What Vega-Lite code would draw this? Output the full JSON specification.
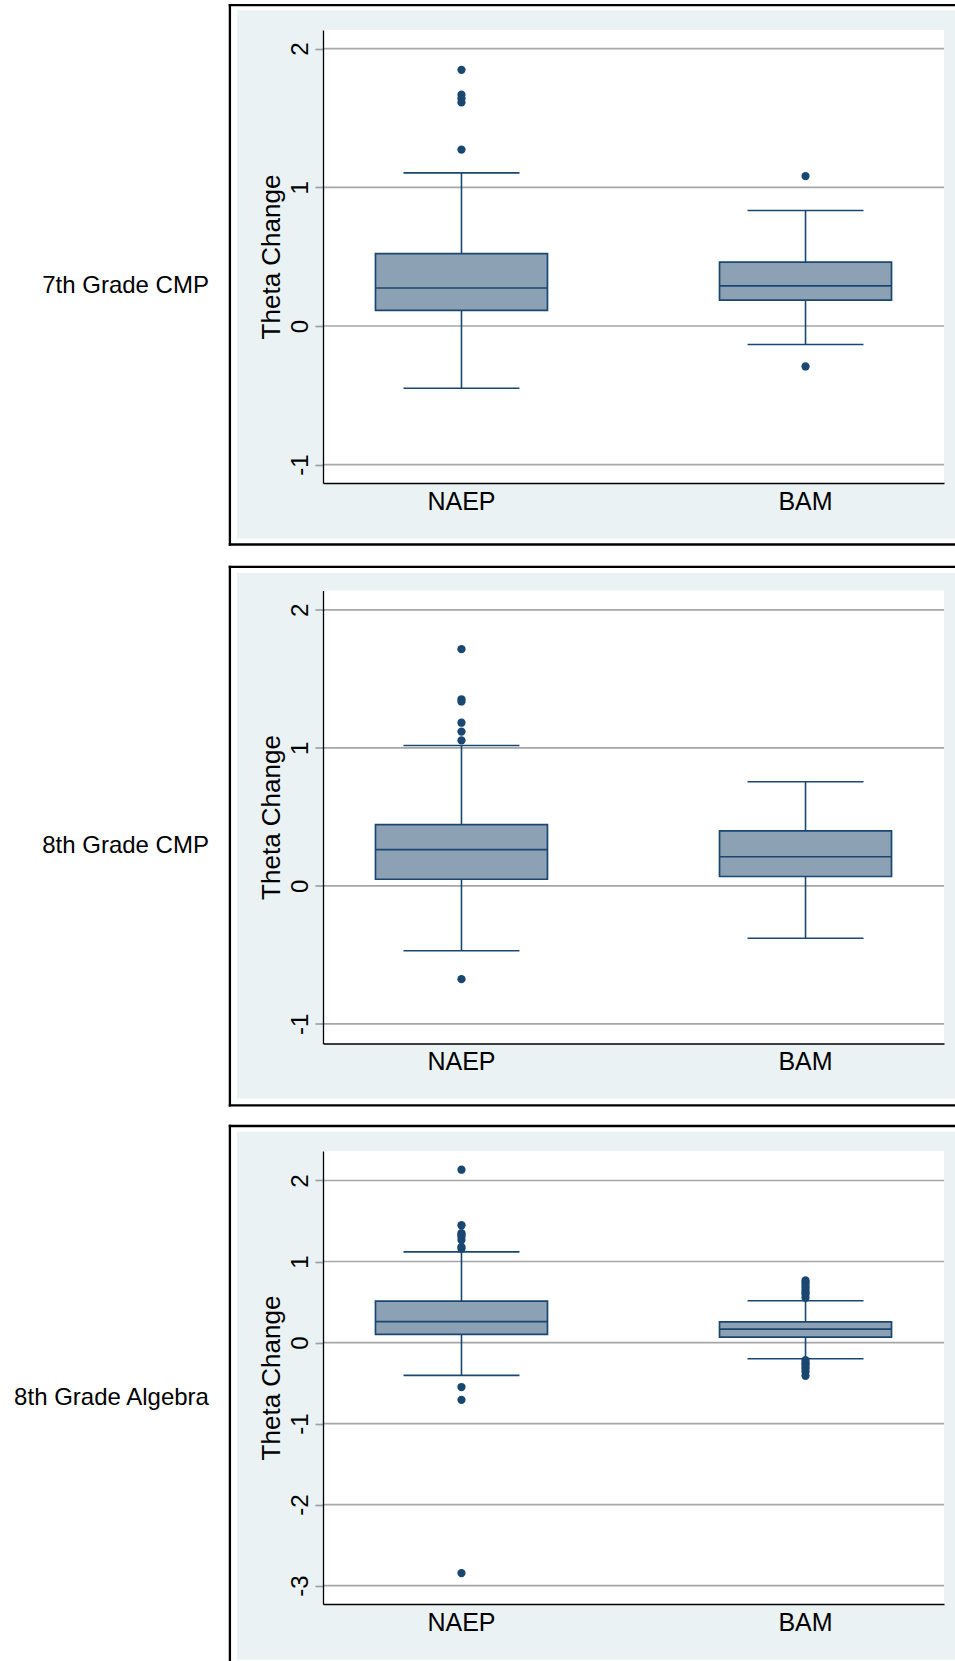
{
  "$schema": "https://vega.github.io/schema/vega-lite/v6.json",
  "background": "white",
  "padding": {"left": 0, "top": 0, "right": 0, "bottom": 0},
  "autosize": {"type": "pad"},
  "bounds": "flush",
  "spacing": 107.5,
  "config": {
    "font": "Liberation Sans",
    "view": {"fill": "white", "stroke": null},
    "axisY": {
      "grid": false, "domainColor": "black", "domainWidth": 1.3,
      "tickColor": "#A0A0A0", "tickSize": 8, "tickWidth": 1.7,
      "labelAngle": -90, "labelAlign": "center", "labelBaseline": "alphabetic",
      "labelPadding": 8, "labelFontSize": 24, "labelColor": "black",
      "labelFlush": false, "labelOverlap": false,
      "labelExpr": "(datum.value < 0 ? '-' : '') + abs(datum.value)",
      "titleFontSize": 26, "titleFontWeight": "normal", "titleColor": "black",
      "titlePadding": 9, "titleBaseline": "alphabetic"
    },
    "axisX": {
      "grid": false, "ticks": false, "domainColor": "black", "domainWidth": 1.3,
      "labelAngle": 0, "labelFontSize": 25, "labelColor": "black",
      "labelBaseline": "alphabetic", "labelPadding": 26
    }
  },
  "datasets": {
    "boxes": [
      {"panel": "7th Grade CMP", "group": "NAEP", "lower": -0.449, "q1": 0.112, "median": 0.274, "q3": 0.522, "upper": 1.104},
      {"panel": "7th Grade CMP", "group": "BAM", "lower": -0.133, "q1": 0.186, "median": 0.289, "q3": 0.461, "upper": 0.833},
      {"panel": "8th Grade CMP", "group": "NAEP", "lower": -0.470, "q1": 0.048, "median": 0.262, "q3": 0.444, "upper": 1.017},
      {"panel": "8th Grade CMP", "group": "BAM", "lower": -0.379, "q1": 0.068, "median": 0.211, "q3": 0.398, "upper": 0.754},
      {"panel": "8th Grade Algebra", "group": "NAEP", "lower": -0.405, "q1": 0.101, "median": 0.259, "q3": 0.511, "upper": 1.119},
      {"panel": "8th Grade Algebra", "group": "BAM", "lower": -0.200, "q1": 0.068, "median": 0.165, "q3": 0.255, "upper": 0.515}
    ],
    "outliers": [
      {"panel": "7th Grade CMP", "group": "NAEP", "value": 1.847},
      {"panel": "7th Grade CMP", "group": "NAEP", "value": 1.668},
      {"panel": "7th Grade CMP", "group": "NAEP", "value": 1.640},
      {"panel": "7th Grade CMP", "group": "NAEP", "value": 1.612},
      {"panel": "7th Grade CMP", "group": "NAEP", "value": 1.272},
      {"panel": "7th Grade CMP", "group": "BAM", "value": 1.081},
      {"panel": "7th Grade CMP", "group": "BAM", "value": -0.292},
      {"panel": "8th Grade CMP", "group": "NAEP", "value": 1.715},
      {"panel": "8th Grade CMP", "group": "NAEP", "value": 1.352},
      {"panel": "8th Grade CMP", "group": "NAEP", "value": 1.336},
      {"panel": "8th Grade CMP", "group": "NAEP", "value": 1.182},
      {"panel": "8th Grade CMP", "group": "NAEP", "value": 1.118},
      {"panel": "8th Grade CMP", "group": "NAEP", "value": 1.054},
      {"panel": "8th Grade CMP", "group": "NAEP", "value": -0.676},
      {"panel": "8th Grade Algebra", "group": "NAEP", "value": 2.133},
      {"panel": "8th Grade Algebra", "group": "NAEP", "value": 1.448},
      {"panel": "8th Grade Algebra", "group": "NAEP", "value": 1.350},
      {"panel": "8th Grade Algebra", "group": "NAEP", "value": 1.330},
      {"panel": "8th Grade Algebra", "group": "NAEP", "value": 1.307},
      {"panel": "8th Grade Algebra", "group": "NAEP", "value": 1.265},
      {"panel": "8th Grade Algebra", "group": "NAEP", "value": 1.180},
      {"panel": "8th Grade Algebra", "group": "NAEP", "value": 1.158},
      {"panel": "8th Grade Algebra", "group": "NAEP", "value": -0.549},
      {"panel": "8th Grade Algebra", "group": "NAEP", "value": -0.707},
      {"panel": "8th Grade Algebra", "group": "NAEP", "value": -2.845},
      {"panel": "8th Grade Algebra", "group": "BAM", "value": 0.767},
      {"panel": "8th Grade Algebra", "group": "BAM", "value": 0.740},
      {"panel": "8th Grade Algebra", "group": "BAM", "value": 0.711},
      {"panel": "8th Grade Algebra", "group": "BAM", "value": 0.680},
      {"panel": "8th Grade Algebra", "group": "BAM", "value": 0.647},
      {"panel": "8th Grade Algebra", "group": "BAM", "value": 0.620},
      {"panel": "8th Grade Algebra", "group": "BAM", "value": 0.596},
      {"panel": "8th Grade Algebra", "group": "BAM", "value": 0.553},
      {"panel": "8th Grade Algebra", "group": "BAM", "value": -0.217},
      {"panel": "8th Grade Algebra", "group": "BAM", "value": -0.245},
      {"panel": "8th Grade Algebra", "group": "BAM", "value": -0.269},
      {"panel": "8th Grade Algebra", "group": "BAM", "value": -0.300},
      {"panel": "8th Grade Algebra", "group": "BAM", "value": -0.325},
      {"panel": "8th Grade Algebra", "group": "BAM", "value": -0.360},
      {"panel": "8th Grade Algebra", "group": "BAM", "value": -0.410}
    ],
    "ticks": [
      {"panel": "7th Grade CMP", "tick": -1}, {"panel": "7th Grade CMP", "tick": 0}, {"panel": "7th Grade CMP", "tick": 1}, {"panel": "7th Grade CMP", "tick": 2},
      {"panel": "8th Grade CMP", "tick": -1}, {"panel": "8th Grade CMP", "tick": 0}, {"panel": "8th Grade CMP", "tick": 1}, {"panel": "8th Grade CMP", "tick": 2},
      {"panel": "8th Grade Algebra", "tick": -3}, {"panel": "8th Grade Algebra", "tick": -2}, {"panel": "8th Grade Algebra", "tick": -1}, {"panel": "8th Grade Algebra", "tick": 0}, {"panel": "8th Grade Algebra", "tick": 1}, {"panel": "8th Grade Algebra", "tick": 2}
    ]
  },
  "vconcat": [
    {
      "width": 621, "height": 453,
      "resolve": {"scale": {"x": "independent"}},
      "layer": [
        {"data": {"values": [{}]}, "mark": {"type": "rect", "fill": "white"},
         "encoding": {"x": {"datum": -0.519, "type": "quantitative", "scale": {"domain": [0, 1], "nice": false, "zero": false}, "axis": null}, "x2": {"datum": -0.516},
                      "y": {"datum": 2.3445, "type": "quantitative", "scale": {"domain": [-1.132, 2.134], "nice": false, "zero": false}}, "y2": {"datum": 2.34}}},
        {"data": {"values": [{}]}, "mark": {"type": "rect", "fill": "#EAF2F3"},
         "encoding": {"x": {"datum": -0.13865, "type": "quantitative", "scale": {"domain": [0, 1], "nice": false, "zero": false}, "axis": null}, "x2": {"datum": 1.01884},
                      "y": {"datum": 2.276, "type": "quantitative", "scale": {"domain": [-1.132, 2.134], "nice": false, "zero": false}}, "y2": {"datum": -1.5322}}},
        {"data": {"values": [{}]}, "mark": {"type": "rect", "fill": "white"},
         "encoding": {"x": {"datum": 0, "type": "quantitative", "scale": {"domain": [0, 1], "nice": false, "zero": false}, "axis": null}, "x2": {"datum": 1},
                      "y": {"datum": 2.134, "type": "quantitative", "scale": {"domain": [-1.132, 2.134], "nice": false, "zero": false}}, "y2": {"datum": -1.132}}},
        {"data": {"values": [{}]}, "mark": {"type": "rule", "color": "black", "strokeWidth": 2.3},
         "encoding": {"x": {"datum": -0.15177, "type": "quantitative", "scale": {"domain": [0, 1], "nice": false, "zero": false}, "axis": null}, "x2": {"datum": 1.01884},
                      "y": {"datum": 2.3135, "type": "quantitative", "scale": {"domain": [-1.132, 2.134], "nice": false, "zero": false}}}},
        {"data": {"values": [{}]}, "mark": {"type": "rule", "color": "black", "strokeWidth": 2.3},
         "encoding": {"x": {"datum": -0.15177, "type": "quantitative", "scale": {"domain": [0, 1], "nice": false, "zero": false}, "axis": null}, "x2": {"datum": 1.01884},
                      "y": {"datum": -1.5754, "type": "quantitative", "scale": {"domain": [-1.132, 2.134], "nice": false, "zero": false}}}},
        {"data": {"values": [{}]}, "mark": {"type": "rule", "color": "black", "strokeWidth": 2.3, "strokeCap": "square"},
         "encoding": {"x": {"datum": -0.14992, "type": "quantitative", "scale": {"domain": [0, 1], "nice": false, "zero": false}, "axis": null},
                      "y": {"datum": 2.3135, "type": "quantitative", "scale": {"domain": [-1.132, 2.134], "nice": false, "zero": false}}, "y2": {"datum": -1.5754}}},
        {"data": {"values": [{}]}, "mark": {"type": "text", "text": "7th Grade CMP", "align": "right", "baseline": "alphabetic", "fontSize": 24, "color": "black"},
         "encoding": {"x": {"datum": -0.1837, "type": "quantitative", "scale": {"domain": [0, 1], "nice": false, "zero": false}, "axis": null},
                      "y": {"datum": 0.2371, "type": "quantitative", "scale": {"domain": [-1.132, 2.134], "nice": false, "zero": false}}}},
        {
          "layer": [
            {"data": {"name": "ticks"}, "transform": [{"filter": "datum.panel === '7th Grade CMP'"}],
             "mark": {"type": "rule", "color": "#A6A6A6", "strokeWidth": 1.7},
             "encoding": {"y": {"field": "tick", "type": "quantitative", "scale": {"domain": [-1.132, 2.134], "nice": false, "zero": false}}}},
            {"data": {"name": "boxes"}, "transform": [{"filter": "datum.panel === '7th Grade CMP'"}],
             "mark": {"type": "rule", "color": "#1A476F", "strokeWidth": 1.6},
             "encoding": {"x": {"field": "group", "type": "nominal", "scale": {"type": "band", "domain": ["NAEP", "BAM"], "paddingInner": 0.195, "paddingOuter": 0}, "axis": {"title": null, "zindex": 1}},
                          "y": {"field": "lower", "type": "quantitative", "scale": {"domain": [-1.132, 2.134], "nice": false, "zero": false}, "axis": {"values": [-1, 0, 1, 2], "title": "Theta Change", "zindex": 1}},
                          "y2": {"field": "upper"}}},
            {"data": {"name": "boxes"}, "transform": [{"filter": "datum.panel === '7th Grade CMP'"}],
             "mark": {"type": "bar", "size": 172, "fill": "#8DA1B5", "stroke": "#1A476F", "strokeWidth": 1.7},
             "encoding": {"x": {"field": "group", "type": "nominal", "scale": {"type": "band", "domain": ["NAEP", "BAM"], "paddingInner": 0.195, "paddingOuter": 0}},
                          "y": {"field": "q1", "type": "quantitative", "scale": {"domain": [-1.132, 2.134], "nice": false, "zero": false}},
                          "y2": {"field": "q3"}}},
            {"data": {"name": "boxes"}, "transform": [{"filter": "datum.panel === '7th Grade CMP'"}],
             "mark": {"type": "tick", "orient": "horizontal", "size": 172, "thickness": 1.7, "color": "#1A476F", "opacity": 1},
             "encoding": {"x": {"field": "group", "type": "nominal", "scale": {"type": "band", "domain": ["NAEP", "BAM"], "paddingInner": 0.195, "paddingOuter": 0}},
                          "y": {"field": "median", "type": "quantitative", "scale": {"domain": [-1.132, 2.134], "nice": false, "zero": false}}}},
            {"data": {"name": "boxes"}, "transform": [{"filter": "datum.panel === '7th Grade CMP'"}],
             "mark": {"type": "tick", "orient": "horizontal", "size": 116, "thickness": 1.6, "color": "#1A476F", "opacity": 1},
             "encoding": {"x": {"field": "group", "type": "nominal", "scale": {"type": "band", "domain": ["NAEP", "BAM"], "paddingInner": 0.195, "paddingOuter": 0}},
                          "y": {"field": "upper", "type": "quantitative", "scale": {"domain": [-1.132, 2.134], "nice": false, "zero": false}}}},
            {"data": {"name": "boxes"}, "transform": [{"filter": "datum.panel === '7th Grade CMP'"}],
             "mark": {"type": "tick", "orient": "horizontal", "size": 116, "thickness": 1.6, "color": "#1A476F", "opacity": 1},
             "encoding": {"x": {"field": "group", "type": "nominal", "scale": {"type": "band", "domain": ["NAEP", "BAM"], "paddingInner": 0.195, "paddingOuter": 0}},
                          "y": {"field": "lower", "type": "quantitative", "scale": {"domain": [-1.132, 2.134], "nice": false, "zero": false}}}},
            {"data": {"name": "outliers"}, "transform": [{"filter": "datum.panel === '7th Grade CMP'"}],
             "mark": {"type": "circle", "size": 68, "color": "#1A476F", "opacity": 1},
             "encoding": {"x": {"field": "group", "type": "nominal", "scale": {"type": "band", "domain": ["NAEP", "BAM"], "paddingInner": 0.195, "paddingOuter": 0}},
                          "y": {"field": "value", "type": "quantitative", "scale": {"domain": [-1.132, 2.134], "nice": false, "zero": false}}}}
          ]
        }
      ]
    },
    {
      "width": 621, "height": 453,
      "resolve": {"scale": {"x": "independent"}},
      "layer": [
        {"data": {"values": [{}]}, "mark": {"type": "rect", "fill": "#EAF2F3"},
         "encoding": {"x": {"datum": -0.13865, "type": "quantitative", "scale": {"domain": [0, 1], "nice": false, "zero": false}, "axis": null}, "x2": {"datum": 1.01884},
                      "y": {"datum": 2.2668, "type": "quantitative", "scale": {"domain": [-1.142, 2.140], "nice": false, "zero": false}}, "y2": {"datum": -1.5397}}},
        {"data": {"values": [{}]}, "mark": {"type": "rect", "fill": "white"},
         "encoding": {"x": {"datum": 0, "type": "quantitative", "scale": {"domain": [0, 1], "nice": false, "zero": false}, "axis": null}, "x2": {"datum": 1},
                      "y": {"datum": 2.140, "type": "quantitative", "scale": {"domain": [-1.142, 2.140], "nice": false, "zero": false}}, "y2": {"datum": -1.142}}},
        {"data": {"values": [{}]}, "mark": {"type": "rule", "color": "black", "strokeWidth": 2.3},
         "encoding": {"x": {"datum": -0.15177, "type": "quantitative", "scale": {"domain": [0, 1], "nice": false, "zero": false}, "axis": null}, "x2": {"datum": 1.01884},
                      "y": {"datum": 2.3117, "type": "quantitative", "scale": {"domain": [-1.142, 2.140], "nice": false, "zero": false}}}},
        {"data": {"values": [{}]}, "mark": {"type": "rule", "color": "black", "strokeWidth": 2.3},
         "encoding": {"x": {"datum": -0.15177, "type": "quantitative", "scale": {"domain": [0, 1], "nice": false, "zero": false}, "axis": null}, "x2": {"datum": 1.01884},
                      "y": {"datum": -1.5897, "type": "quantitative", "scale": {"domain": [-1.142, 2.140], "nice": false, "zero": false}}}},
        {"data": {"values": [{}]}, "mark": {"type": "rule", "color": "black", "strokeWidth": 2.3, "strokeCap": "square"},
         "encoding": {"x": {"datum": -0.14992, "type": "quantitative", "scale": {"domain": [0, 1], "nice": false, "zero": false}, "axis": null},
                      "y": {"datum": 2.3117, "type": "quantitative", "scale": {"domain": [-1.142, 2.140], "nice": false, "zero": false}}, "y2": {"datum": -1.5897}}},
        {"data": {"values": [{}]}, "mark": {"type": "text", "text": "8th Grade CMP", "align": "right", "baseline": "alphabetic", "fontSize": 24, "color": "black"},
         "encoding": {"x": {"datum": -0.1837, "type": "quantitative", "scale": {"domain": [0, 1], "nice": false, "zero": false}, "axis": null},
                      "y": {"datum": 0.2357, "type": "quantitative", "scale": {"domain": [-1.142, 2.140], "nice": false, "zero": false}}}},
        {
          "layer": [
            {"data": {"name": "ticks"}, "transform": [{"filter": "datum.panel === '8th Grade CMP'"}],
             "mark": {"type": "rule", "color": "#A6A6A6", "strokeWidth": 1.7},
             "encoding": {"y": {"field": "tick", "type": "quantitative", "scale": {"domain": [-1.142, 2.140], "nice": false, "zero": false}}}},
            {"data": {"name": "boxes"}, "transform": [{"filter": "datum.panel === '8th Grade CMP'"}],
             "mark": {"type": "rule", "color": "#1A476F", "strokeWidth": 1.6},
             "encoding": {"x": {"field": "group", "type": "nominal", "scale": {"type": "band", "domain": ["NAEP", "BAM"], "paddingInner": 0.195, "paddingOuter": 0}, "axis": {"title": null, "zindex": 1}},
                          "y": {"field": "lower", "type": "quantitative", "scale": {"domain": [-1.142, 2.140], "nice": false, "zero": false}, "axis": {"values": [-1, 0, 1, 2], "title": "Theta Change", "zindex": 1}},
                          "y2": {"field": "upper"}}},
            {"data": {"name": "boxes"}, "transform": [{"filter": "datum.panel === '8th Grade CMP'"}],
             "mark": {"type": "bar", "size": 172, "fill": "#8DA1B5", "stroke": "#1A476F", "strokeWidth": 1.7},
             "encoding": {"x": {"field": "group", "type": "nominal", "scale": {"type": "band", "domain": ["NAEP", "BAM"], "paddingInner": 0.195, "paddingOuter": 0}},
                          "y": {"field": "q1", "type": "quantitative", "scale": {"domain": [-1.142, 2.140], "nice": false, "zero": false}},
                          "y2": {"field": "q3"}}},
            {"data": {"name": "boxes"}, "transform": [{"filter": "datum.panel === '8th Grade CMP'"}],
             "mark": {"type": "tick", "orient": "horizontal", "size": 172, "thickness": 1.7, "color": "#1A476F", "opacity": 1},
             "encoding": {"x": {"field": "group", "type": "nominal", "scale": {"type": "band", "domain": ["NAEP", "BAM"], "paddingInner": 0.195, "paddingOuter": 0}},
                          "y": {"field": "median", "type": "quantitative", "scale": {"domain": [-1.142, 2.140], "nice": false, "zero": false}}}},
            {"data": {"name": "boxes"}, "transform": [{"filter": "datum.panel === '8th Grade CMP'"}],
             "mark": {"type": "tick", "orient": "horizontal", "size": 116, "thickness": 1.6, "color": "#1A476F", "opacity": 1},
             "encoding": {"x": {"field": "group", "type": "nominal", "scale": {"type": "band", "domain": ["NAEP", "BAM"], "paddingInner": 0.195, "paddingOuter": 0}},
                          "y": {"field": "upper", "type": "quantitative", "scale": {"domain": [-1.142, 2.140], "nice": false, "zero": false}}}},
            {"data": {"name": "boxes"}, "transform": [{"filter": "datum.panel === '8th Grade CMP'"}],
             "mark": {"type": "tick", "orient": "horizontal", "size": 116, "thickness": 1.6, "color": "#1A476F", "opacity": 1},
             "encoding": {"x": {"field": "group", "type": "nominal", "scale": {"type": "band", "domain": ["NAEP", "BAM"], "paddingInner": 0.195, "paddingOuter": 0}},
                          "y": {"field": "lower", "type": "quantitative", "scale": {"domain": [-1.142, 2.140], "nice": false, "zero": false}}}},
            {"data": {"name": "outliers"}, "transform": [{"filter": "datum.panel === '8th Grade CMP'"}],
             "mark": {"type": "circle", "size": 68, "color": "#1A476F", "opacity": 1},
             "encoding": {"x": {"field": "group", "type": "nominal", "scale": {"type": "band", "domain": ["NAEP", "BAM"], "paddingInner": 0.195, "paddingOuter": 0}},
                          "y": {"field": "value", "type": "quantitative", "scale": {"domain": [-1.142, 2.140], "nice": false, "zero": false}}}}
          ]
        }
      ]
    },
    {
      "width": 621, "height": 453,
      "resolve": {"scale": {"x": "independent"}},
      "layer": [
        {"data": {"values": [{}]}, "mark": {"type": "rect", "fill": "#EAF2F3"},
         "encoding": {"x": {"datum": -0.13865, "type": "quantitative", "scale": {"domain": [0, 1], "nice": false, "zero": false}, "axis": null}, "x2": {"datum": 1.01884},
                      "y": {"datum": 2.601, "type": "quantitative", "scale": {"domain": [-3.227, 2.364], "nice": false, "zero": false}}, "y2": {"datum": -3.916}}},
        {"data": {"values": [{}]}, "mark": {"type": "rect", "fill": "white"},
         "encoding": {"x": {"datum": 0, "type": "quantitative", "scale": {"domain": [0, 1], "nice": false, "zero": false}, "axis": null}, "x2": {"datum": 1},
                      "y": {"datum": 2.364, "type": "quantitative", "scale": {"domain": [-3.227, 2.364], "nice": false, "zero": false}}, "y2": {"datum": -3.227}}},
        {"data": {"values": [{}]}, "mark": {"type": "rule", "color": "black", "strokeWidth": 2.3},
         "encoding": {"x": {"datum": -0.15177, "type": "quantitative", "scale": {"domain": [0, 1], "nice": false, "zero": false}, "axis": null}, "x2": {"datum": 1.01884},
                      "y": {"datum": 2.6726, "type": "quantitative", "scale": {"domain": [-3.227, 2.364], "nice": false, "zero": false}}}},
        {"data": {"values": [{}]}, "mark": {"type": "rule", "color": "black", "strokeWidth": 2.3},
         "encoding": {"x": {"datum": -0.14992, "type": "quantitative", "scale": {"domain": [0, 1], "nice": false, "zero": false}, "axis": null},
                      "y": {"datum": 2.6868, "type": "quantitative", "scale": {"domain": [-3.227, 2.364], "nice": false, "zero": false}}, "y2": {"datum": -3.9406}}},
        {"data": {"values": [{}]}, "mark": {"type": "text", "text": "8th Grade Algebra", "align": "right", "baseline": "alphabetic", "fontSize": 24, "color": "black"},
         "encoding": {"x": {"datum": -0.1837, "type": "quantitative", "scale": {"domain": [0, 1], "nice": false, "zero": false}, "axis": null},
                      "y": {"datum": -0.7723, "type": "quantitative", "scale": {"domain": [-3.227, 2.364], "nice": false, "zero": false}}}},
        {
          "layer": [
            {"data": {"name": "ticks"}, "transform": [{"filter": "datum.panel === '8th Grade Algebra'"}],
             "mark": {"type": "rule", "color": "#A6A6A6", "strokeWidth": 1.7},
             "encoding": {"y": {"field": "tick", "type": "quantitative", "scale": {"domain": [-3.227, 2.364], "nice": false, "zero": false}}}},
            {"data": {"name": "boxes"}, "transform": [{"filter": "datum.panel === '8th Grade Algebra'"}],
             "mark": {"type": "rule", "color": "#1A476F", "strokeWidth": 1.6},
             "encoding": {"x": {"field": "group", "type": "nominal", "scale": {"type": "band", "domain": ["NAEP", "BAM"], "paddingInner": 0.195, "paddingOuter": 0}, "axis": {"title": null, "zindex": 1}},
                          "y": {"field": "lower", "type": "quantitative", "scale": {"domain": [-3.227, 2.364], "nice": false, "zero": false}, "axis": {"values": [-3, -2, -1, 0, 1, 2], "title": "Theta Change", "zindex": 1}},
                          "y2": {"field": "upper"}}},
            {"data": {"name": "boxes"}, "transform": [{"filter": "datum.panel === '8th Grade Algebra'"}],
             "mark": {"type": "bar", "size": 172, "fill": "#8DA1B5", "stroke": "#1A476F", "strokeWidth": 1.7},
             "encoding": {"x": {"field": "group", "type": "nominal", "scale": {"type": "band", "domain": ["NAEP", "BAM"], "paddingInner": 0.195, "paddingOuter": 0}},
                          "y": {"field": "q1", "type": "quantitative", "scale": {"domain": [-3.227, 2.364], "nice": false, "zero": false}},
                          "y2": {"field": "q3"}}},
            {"data": {"name": "boxes"}, "transform": [{"filter": "datum.panel === '8th Grade Algebra'"}],
             "mark": {"type": "tick", "orient": "horizontal", "size": 172, "thickness": 1.7, "color": "#1A476F", "opacity": 1},
             "encoding": {"x": {"field": "group", "type": "nominal", "scale": {"type": "band", "domain": ["NAEP", "BAM"], "paddingInner": 0.195, "paddingOuter": 0}},
                          "y": {"field": "median", "type": "quantitative", "scale": {"domain": [-3.227, 2.364], "nice": false, "zero": false}}}},
            {"data": {"name": "boxes"}, "transform": [{"filter": "datum.panel === '8th Grade Algebra'"}],
             "mark": {"type": "tick", "orient": "horizontal", "size": 116, "thickness": 1.6, "color": "#1A476F", "opacity": 1},
             "encoding": {"x": {"field": "group", "type": "nominal", "scale": {"type": "band", "domain": ["NAEP", "BAM"], "paddingInner": 0.195, "paddingOuter": 0}},
                          "y": {"field": "upper", "type": "quantitative", "scale": {"domain": [-3.227, 2.364], "nice": false, "zero": false}}}},
            {"data": {"name": "boxes"}, "transform": [{"filter": "datum.panel === '8th Grade Algebra'"}],
             "mark": {"type": "tick", "orient": "horizontal", "size": 116, "thickness": 1.6, "color": "#1A476F", "opacity": 1},
             "encoding": {"x": {"field": "group", "type": "nominal", "scale": {"type": "band", "domain": ["NAEP", "BAM"], "paddingInner": 0.195, "paddingOuter": 0}},
                          "y": {"field": "lower", "type": "quantitative", "scale": {"domain": [-3.227, 2.364], "nice": false, "zero": false}}}},
            {"data": {"name": "outliers"}, "transform": [{"filter": "datum.panel === '8th Grade Algebra'"}],
             "mark": {"type": "circle", "size": 68, "color": "#1A476F", "opacity": 1},
             "encoding": {"x": {"field": "group", "type": "nominal", "scale": {"type": "band", "domain": ["NAEP", "BAM"], "paddingInner": 0.195, "paddingOuter": 0}},
                          "y": {"field": "value", "type": "quantitative", "scale": {"domain": [-3.227, 2.364], "nice": false, "zero": false}}}}
          ]
        }
      ]
    }
  ]
}
